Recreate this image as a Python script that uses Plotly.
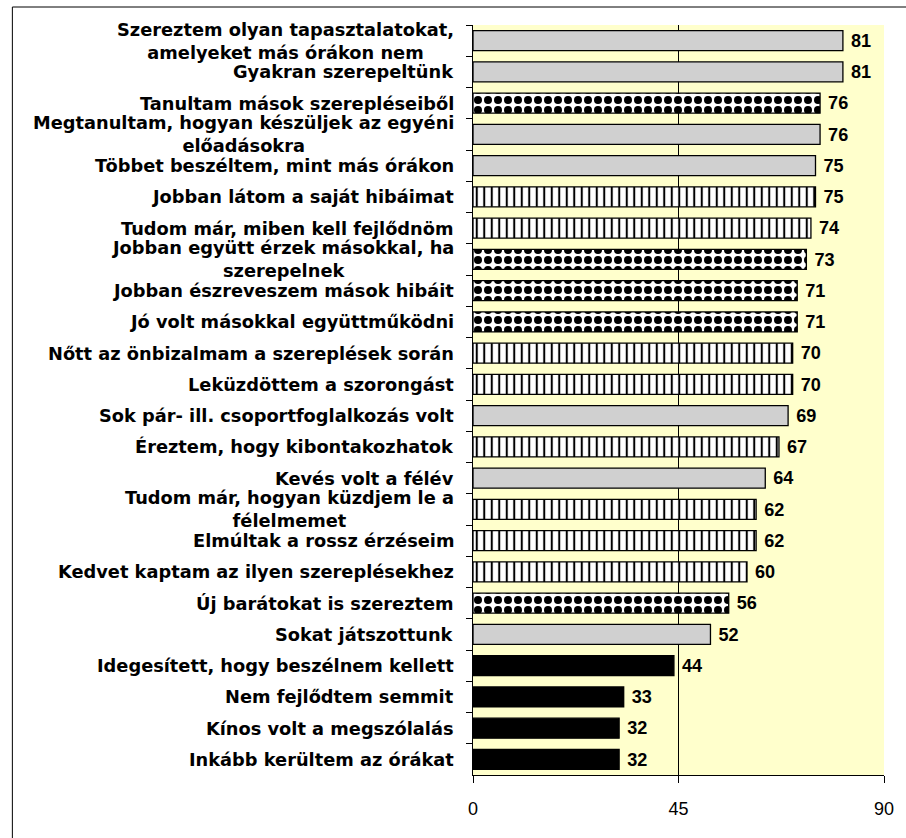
import plotly.graph_objects as go

# ---- data (top to bottom as displayed) ----
labels = [
    "Szereztem olyan tapasztalatokat,<br>amelyeket más órákon nem",
    "Gyakran szerepeltünk",
    "Tanultam mások szerepléseiből",
    "Megtanultam, hogyan készüljek az egyéni<br>előadásokra",
    "Többet beszéltem, mint más órákon",
    "Jobban látom a saját hibáimat",
    "Tudom már, miben kell fejlődnöm",
    "Jobban együtt érzek másokkal, ha<br>szerepelnek",
    "Jobban észreveszem mások hibáit",
    "Jó volt másokkal együttműködni",
    "Nőtt az önbizalmam a szereplések során",
    "Leküzdöttem a szorongást",
    "Sok pár- ill. csoportfoglalkozás volt",
    "Éreztem, hogy kibontakozhatok",
    "Kevés volt a félév",
    "Tudom már, hogyan küzdjem le a<br>félelmemet",
    "Elmúltak a rossz érzéseim",
    "Kedvet kaptam az ilyen szereplésekhez",
    "Új barátokat is szereztem",
    "Sokat játszottunk",
    "Idegesített, hogy beszélnem kellett",
    "Nem fejlődtem semmit",
    "Kínos volt a megszólalás",
    "Inkább kerültem az órákat",
]
values = [81, 81, 76, 76, 75, 75, 74, 73, 71, 71, 70, 70, 69, 67, 64, 62, 62, 60, 56, 52, 44, 33, 32, 32]
kinds = ["gray", "gray", "checker", "gray", "gray", "stripe", "stripe", "checker", "checker", "checker",
         "stripe", "stripe", "gray", "stripe", "gray", "stripe", "stripe", "stripe", "checker", "gray",
         "black", "black", "black", "black"]
x_ticks = [0, 45, 90]

# ---- styles ----
STYLE = {
    "gray":    dict(color="#d0d0d0", pattern=None),
    "checker": dict(color="white", pattern=dict(shape=".", size=10, solidity=0.5,
                                                fgcolor="black", bgcolor="white", fillmode="replace")),
    "stripe":  dict(color="white", pattern=dict(shape="|", size=7.5, solidity=0.27,
                                                fgcolor="black", bgcolor="white", fillmode="replace")),
    "black":   dict(color="black", pattern=None),
}
LABEL_SIZE = 17.8

W, H = 906, 838
L, R, T, B = 473, 19, 25, 63
pw, ph = W - L - R, H - T - B

ids = list(range(len(labels)))

fig = go.Figure()
for kind in ["gray", "checker", "stripe", "black"]:
    sel = [i for i in ids if kinds[i] == kind]
    st = STYLE[kind]
    marker = dict(color=st["color"], line=dict(color="black", width=1.3))
    if st["pattern"]:
        marker["pattern"] = st["pattern"]
    fig.add_trace(go.Bar(
        y=sel, x=[values[i] for i in sel], orientation="h",
        width=0.64,
        marker=marker,
        texttemplate=" %{x}",
        textposition="outside",
        textfont=dict(family="Liberation Sans", size=19, color="black", weight="bold"),
        cliponaxis=False,
        hoverinfo="skip",
        showlegend=False,
    ))

# category labels, centered multi-line like the original
for i, lab in enumerate(labels):
    fig.add_annotation(
        x=0, xref="paper", y=i, yref="y",
        text=lab, showarrow=False,
        xanchor="right", yanchor="middle", align="center",
        xshift=-17,
        font=dict(family="DejaVu Sans", size=LABEL_SIZE, color="black", weight="bold"),
    )

# single vertical gridline at the middle tick
fig.add_vline(x=x_ticks[1], line=dict(color="black", width=1), layer="below")

fig.update_layout(
    width=W, height=H,
    margin=dict(l=L, r=R, t=T, b=B, pad=0),
    paper_bgcolor="white",
    plot_bgcolor="#FFFFCC",
    barmode="overlay",
    xaxis=dict(
        range=[0, 90], tickvals=x_ticks, ticktext=[str(v) for v in x_ticks],
        showgrid=False, zeroline=False,
        showline=True, linecolor="black", linewidth=1,
        ticks="outside", ticklen=7, tickcolor="black", tickwidth=1,
        ticklabelstandoff=10,
        tickfont=dict(family="Liberation Sans", size=18, color="black"),
        fixedrange=True,
    ),
    yaxis=dict(
        range=[len(labels) - 0.5, -0.5],
        tickvals=[i + 0.5 for i in ids[:-1]] + [-0.5],
        showticklabels=False,
        showgrid=False, zeroline=False,
        showline=True, linecolor="black", linewidth=1,
        ticks="outside", ticklen=6, tickcolor="black", tickwidth=1,
        fixedrange=True,
    ),
    shapes=[
        # gray plot-area frame (top/right)
        dict(type="rect", xref="paper", yref="paper", x0=0, x1=1, y0=0, y1=1,
             line=dict(color="#808080", width=1.5), fillcolor="rgba(0,0,0,0)", layer="below"),
        # outer chart-area frame
        dict(type="rect", xref="paper", yref="paper",
             x0=(9 - L) / pw, x1=(W + 20 - L) / pw,
             y0=-(B + 20) / ph, y1=1 + (T - 7) / ph,
             line=dict(color="black", width=1), fillcolor="rgba(0,0,0,0)", layer="below"),
    ],
)

fig.write_html("out.html")
